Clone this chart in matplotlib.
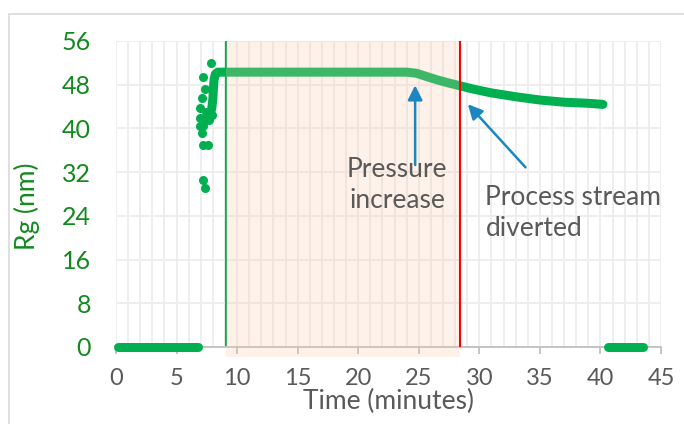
import matplotlib
matplotlib.use("Agg")
import matplotlib.pyplot as plt
from matplotlib.patches import Rectangle
from matplotlib.ticker import MultipleLocator

plt.rcParams['font.family'] = ['Lato', 'DejaVu Sans']

# baseline (instrument not measuring) segments, Rg = 0
base1_x = [0.2, 1.5, 3.0, 4.5, 6.0, 6.8]
base1_y = [0, 0, 0, 0, 0, 0]
base2_x = [40.6, 41.5, 42.5, 43.5]
base2_y = [0, 0, 0, 0]

# scattered start-up points
start_x = [7.82, 7.22, 7.36, 7.08, 6.94, 6.94, 7.22, 7.08, 7.22, 7.63,
           7.16, 7.36, 7.5, 7.7, 7.4, 7.15, 6.9, 7.9]
start_y = [51.9, 49.4, 47.2, 45.6, 43.8, 42.0, 40.4, 39.2, 37.0, 36.9,
           30.6, 29.1, 42.5, 41.5, 43.0, 41.0, 40.5, 42.5]

# main Rg trace (dense points drawn as a thick line)
rg_x = [7.9, 8.0, 8.05, 8.1, 8.2, 8.4, 8.8, 12, 16, 20, 24, 24.8, 25.5,
        26.5, 27.5, 28.4, 29.5, 31, 33, 35, 37, 39, 40.2]
rg_y = [43.5, 45.5, 47.5, 49.0, 49.9, 50.3, 50.3, 50.3, 50.3, 50.3, 50.3,
        50.1, 49.6, 48.9, 48.3, 47.8, 47.2, 46.5, 45.8, 45.2, 44.8, 44.6, 44.4]

t_start = 9.1      # green marker line
t_divert = 28.4    # red marker line

green = '#00b050'
label_green = '#138a1e'
gray = '#595959'
blue = '#1a86c2'

fig = plt.figure(figsize=(6.84, 4.24), dpi=100)
ax = fig.add_axes([116 / 684, 1 - 347 / 424, 545 / 684, 306 / 424])

fig.patches.append(Rectangle((9 / 684, -0.1), 1.0, 1 - 14 / 424 + 0.1,
                             transform=fig.transFigure, fill=False,
                             edgecolor='#d9d9d9', lw=1.2))

ax.plot(base1_x, base1_y, color=green, lw=6.5, solid_capstyle='round', zorder=3, clip_on=False)
ax.plot(base2_x, base2_y, color=green, lw=6.5, solid_capstyle='round', zorder=3, clip_on=False)
ax.plot(rg_x, rg_y, color=green, lw=6.5, solid_capstyle='round', solid_joinstyle='round', zorder=3)
ax.plot(start_x, start_y, 'o', color=green, ms=6.5, mec='none', zorder=3)

ax.axvline(t_start, color=green, lw=1.5, zorder=2)
ax.axvspan(t_start, t_divert, ymin=-0.033, ymax=1, color='#f8cbad', alpha=0.25,
           lw=0, zorder=4, clip_on=False)
ax.axvline(t_divert, color='#ff0000', lw=1.5, zorder=5)

ax.annotate('', xy=(24.7, 48.4), xytext=(24.7, 32.8),
            arrowprops=dict(arrowstyle='-|>', color=blue, lw=1.8, mutation_scale=22), zorder=6)
ax.annotate('', xy=(28.9, 44.8), xytext=(33.97, 32.5),
            arrowprops=dict(arrowstyle='-|>', color=blue, lw=1.8, mutation_scale=22), zorder=6)
ax.text(23.2, 29.7, 'Pressure\nincrease', ha='center', va='center', fontsize=19,
        color=gray, linespacing=1.3, zorder=6)
ax.text(30.5, 24.6, 'Process stream\ndiverted', ha='left', va='center', fontsize=19,
        color=gray, linespacing=1.3, zorder=6)

ax.set_xlim(0, 45)
ax.set_ylim(0, 56)
ax.xaxis.set_major_locator(MultipleLocator(5))
ax.xaxis.set_minor_locator(MultipleLocator(1))
ax.yaxis.set_major_locator(MultipleLocator(8))
ax.grid(True, which='minor', axis='x', color='#eeeeee', lw=1.4, zorder=0)
ax.grid(True, which='major', axis='x', color='#eeeeee', lw=1.4, zorder=0)
ax.grid(True, which='major', axis='y', color='#eeeeee', lw=1.4, zorder=0)
ax.set_axisbelow(True)

for s in ['top', 'right', 'left']:
    ax.spines[s].set_visible(False)
ax.spines['bottom'].set_color('#bfbfbf')
ax.spines['bottom'].set_linewidth(1.3)

ax.tick_params(axis='x', which='major', length=5, width=1.3, color='#bfbfbf',
               labelsize=17, labelcolor=gray, pad=10)
ax.tick_params(axis='x', which='minor', length=0)
ax.tick_params(axis='y', length=0, labelsize=18, labelcolor=label_green, pad=18)

ax.set_xlabel('Time (minutes)', fontsize=19, color=gray, labelpad=0)
ax.set_ylabel('Rg (nm)', fontsize=19, color=label_green)
ax.yaxis.set_label_coords(-0.139, 0.46)

fig.savefig('out.png', dpi=100)
